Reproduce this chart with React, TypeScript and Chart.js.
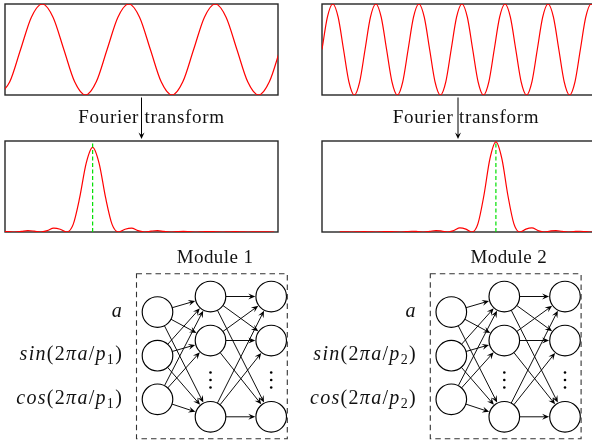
import React, { useEffect, useRef } from "react";
import { Chart, registerables } from "chart.js";

Chart.register(...registerables);

// ---------------- data ----------------
// Top panels: the two input signals, sampled every 1/8 of a period (x unit = one period)
const signal1 = [
  -1, -0.71, 0, 0.71, 1, 0.71, 0, -0.71,
  -1, -0.71, 0, 0.71, 1, 0.71, 0, -0.71,
  -1, -0.71, 0, 0.71, 1, 0.71, 0, -0.71,
  -1, -0.71, 0,
];
const signal2 = [
  0, 0.71, 1, 0.71, 0, -0.71, -1, -0.71,
  0, 0.71, 1, 0.71, 0, -0.71, -1, -0.71,
  0, 0.71, 1, 0.71, 0, -0.71, -1, -0.71,
  0, 0.71, 1, 0.71, 0, -0.71, -1, -0.71,
  0, 0.71, 1, 0.71, 0, -0.71, -1, -0.71,
  0, 0.71, 1, 0.71, 0, -0.71, -1, -0.71,
  0, 0.71, 1, 0.71, 0,
];
const samplesPerPeriod = 8;
const signalWindows = [
  [0.07, 3.225],
  [0, 6.34],
];

// Bottom panels: magnitude spectra (frequency window 0..10)
const spectrumPeaks = [3.21, 6.37];
const spectrumHeights = [0.93, 0.99];
const lobeWidths = [0.95, 0.88];
const lobeStep = 0.25;
const lobeCenterIndex = 26;
const lobeShape = [
  0.0024, 0.0013, 0, 0.0015, 0.0033, 0.0018, 0, 0.0022, 0.005, 0.0028, 0,
  0.0036, 0.0083, 0.0048, 0, 0.0067, 0.0162, 0.01, 0, 0.0165, 0.045, 0.0324,
  0, 0.09, 0.405, 0.811,
  1,
  0.811, 0.405, 0.09, 0, 0.0324, 0.045, 0.0165, 0, 0.01, 0.0162, 0.0067, 0,
  0.0048, 0.0083, 0.0036, 0, 0.0028, 0.005, 0.0022, 0, 0.0018, 0.0033, 0.0015,
  0, 0.0013, 0.0024, 0.0011, 0,
];
const frequencyRange = [0, 10];

// Texts
const transformLabel = "Fourier transform";
const moduleNames = ["Module 1", "Module 2"];
const moduleIndices = ["1", "2"];
// network: three layers, three drawn nodes each
const layerSizes = [3, 3, 3];

// ---------------- layout (positions / sizes) ----------------
const W = 592;
const H = 442;
const PAD = 3;
const panels = [
  { left: 5, top: 4, width: 273, height: 91 },
  { left: 322, top: 4, width: 273, height: 91 },
  { left: 5, top: 141, width: 273, height: 91 },
  { left: 322, top: 141, width: 273, height: 91 },
];
const moduleOffsets = [0, 293.8];
const layerX = [157.5, 210.5, 271.2];
const inputRowsY = [312, 355.7, 399.3];
const innerRowsY = [296.5, 340.5, 416.8];
const dotsY = [372.5, 380, 387.5];
const nodeRadius = 15.3;
const moduleBox = { left: 136.5, top: 273.8, right: 287.3, bottom: 438.7 };
const moduleTitle = { x: 215, y: 263.3 };
const labelGap = 35.7;
const transformArrowsX = [141.5, 458];
const transformArrowY = [97.5, 139];
const transformTextX = [78.3, 392.7];
const transformTextY = 122.7;

const SERIF = '"Liberation Serif", "DejaVu Serif", serif';
const RED = "#ff0000";
const GREEN = "#00e000";
const FRAME = "#262626";

type Seg = [string, "i" | "u" | "s"];
function inputLabel(row: number, k: string): Seg[] {
  if (row === 0) return [["a", "i"]];
  const fn = row === 1 ? "sin" : "cos";
  return [
    [fn, "i"],
    ["(", "u"],
    ["2", "u"],
    ["πa", "i"],
    ["/", "u"],
    ["p", "i"],
    [k, "s"],
    [")", "u"],
  ];
}

const framePlugin = {
  id: "panelFrame",
  beforeDatasetsDraw(chart: any) {
    const { ctx, chartArea: a } = chart;
    ctx.save();
    ctx.strokeStyle = FRAME;
    ctx.lineWidth = 1.4;
    ctx.strokeRect(a.left, a.top, a.right - a.left, a.bottom - a.top);
    ctx.restore();
  },
};

function drawArrow(ctx: CanvasRenderingContext2D, x1: number, y1: number, x2: number, y2: number, r1: number, r2: number, hl = 7, hw = 3) {
  const dx = x2 - x1;
  const dy = y2 - y1;
  const len = Math.hypot(dx, dy);
  const ux = dx / len;
  const uy = dy / len;
  const sx = x1 + ux * r1;
  const sy = y1 + uy * r1;
  const ex = x2 - ux * r2;
  const ey = y2 - uy * r2;
  ctx.beginPath();
  ctx.moveTo(sx, sy);
  ctx.lineTo(ex - ux * hl * 0.6, ey - uy * hl * 0.6);
  ctx.stroke();
  ctx.beginPath();
  ctx.moveTo(ex, ey);
  ctx.lineTo(ex - ux * hl - uy * hw, ey - uy * hl + ux * hw);
  ctx.lineTo(ex - ux * hl * 0.62, ey - uy * hl * 0.62);
  ctx.lineTo(ex - ux * hl + uy * hw, ey - uy * hl - ux * hw);
  ctx.closePath();
  ctx.fill();
}

function drawMath(ctx: CanvasRenderingContext2D, segs: Seg[], right: number, baseline: number) {
  const size = 20;
  const fonts: Record<string, string> = {
    i: `italic ${size}px ${SERIF}`,
    u: `${size}px ${SERIF}`,
    s: `${Math.round(size * 0.7)}px ${SERIF}`,
  };
  const extra = 1.3;
  let total = 0;
  for (const [t, st] of segs) {
    ctx.font = fonts[st];
    for (const ch of t) total += ctx.measureText(ch).width + extra;
  }
  total -= extra;
  let x = right - total;
  ctx.textAlign = "left";
  ctx.textBaseline = "alphabetic";
  for (const [t, st] of segs) {
    ctx.font = fonts[st];
    const y = st === "s" ? baseline + 3.8 : baseline;
    for (const ch of t) {
      ctx.fillText(ch, x, y);
      x += ctx.measureText(ch).width + extra;
    }
  }
}

const diagramPlugin = {
  id: "diagram",
  beforeDatasetsDraw(chart: any) {
    const { ctx } = chart;
    const sx = chart.scales.x;
    const sy = chart.scales.y;
    const px = (v: number) => sx.getPixelForValue(v);
    const py = (v: number) => sy.getPixelForValue(v);
    ctx.save();
    ctx.strokeStyle = "#000";
    ctx.fillStyle = "#000";
    ctx.lineWidth = 0.95;
    moduleOffsets.forEach((off) => {
      for (let l = 0; l < layerSizes.length - 1; l++) {
        const ys1 = l === 0 ? inputRowsY : innerRowsY;
        const ys2 = innerRowsY;
        for (let a = 0; a < layerSizes[l]; a++) {
          for (let b = 0; b < layerSizes[l + 1]; b++) {
            drawArrow(ctx, px(layerX[l] + off), py(ys1[a]), px(layerX[l + 1] + off), py(ys2[b]), nodeRadius, nodeRadius + 0.6);
          }
        }
      }
    });
    ctx.restore();
  },
  afterDatasetsDraw(chart: any) {
    const { ctx } = chart;
    const sx = chart.scales.x;
    const sy = chart.scales.y;
    const px = (v: number) => sx.getPixelForValue(v);
    const py = (v: number) => sy.getPixelForValue(v);
    ctx.save();
    // dashed module frames
    ctx.strokeStyle = "#333";
    ctx.lineWidth = 1.1;
    ctx.setLineDash([5.5, 4]);
    moduleOffsets.forEach((off) => {
      ctx.strokeRect(
        px(moduleBox.left + off),
        py(moduleBox.top),
        px(moduleBox.right + off) - px(moduleBox.left + off),
        py(moduleBox.bottom) - py(moduleBox.top)
      );
    });
    ctx.setLineDash([]);
    // Fourier transform arrows
    ctx.strokeStyle = "#000";
    ctx.fillStyle = "#000";
    ctx.lineWidth = 1;
    transformArrowsX.forEach((x) => {
      drawArrow(ctx, px(x), py(transformArrowY[0]), px(x), py(transformArrowY[1]), 0, 0, 6.5, 3);
    });
    // texts
    ctx.fillStyle = "#111";
    ctx.textBaseline = "alphabetic";
    ctx.font = `19px ${SERIF}`;
    (ctx as any).letterSpacing = "0.7px";
    ctx.textAlign = "left";
    transformTextX.forEach((x) => ctx.fillText(transformLabel, px(x), py(transformTextY)));
    (ctx as any).letterSpacing = "0.4px";
    ctx.textAlign = "center";
    moduleOffsets.forEach((off, m) => ctx.fillText(moduleNames[m], px(moduleTitle.x + off), py(moduleTitle.y)));
    (ctx as any).letterSpacing = "0px";
    moduleOffsets.forEach((off, m) => {
      inputRowsY.forEach((y, r) => {
        drawMath(ctx, inputLabel(r, moduleIndices[m]), px(layerX[0] + off - labelGap), py(y + 4.7));
      });
    });
    ctx.restore();
  },
};

export default function App() {
  const bgRef = useRef<HTMLCanvasElement | null>(null);
  const panelRefs = useRef<(HTMLCanvasElement | null)[]>([]);

  useEffect(() => {
    const charts: Chart[] = [];
    const baseOptions = (xr: number[], yr: number[]) => ({
      animation: false as const,
      responsive: false,
      events: [] as any[],
      layout: { padding: PAD, autoPadding: false },
      plugins: { legend: { display: false }, tooltip: { enabled: false } },
      elements: { point: { radius: 0 } },
      scales: {
        x: { type: "linear" as const, display: false, min: xr[0], max: xr[1] },
        y: { type: "linear" as const, display: false, min: yr[0], max: yr[1] },
      },
    });

    // top panels: signals
    [signal1, signal2].forEach((sig, i) => {
      const cv = panelRefs.current[i];
      if (!cv) return;
      charts.push(
        new Chart(cv, {
          type: "line",
          data: {
            datasets: [
              {
                data: sig.map((v, k) => ({ x: k / samplesPerPeriod, y: v })),
                borderColor: RED,
                borderWidth: 1.2,
                cubicInterpolationMode: "monotone",
                pointRadius: 0,
                fill: false,
              },
            ],
          },
          options: baseOptions(signalWindows[i], [-1, 1]) as any,
          plugins: [framePlugin],
        })
      );
    });

    // bottom panels: spectra
    spectrumPeaks.forEach((peak, i) => {
      const cv = panelRefs.current[i + 2];
      if (!cv) return;
      charts.push(
        new Chart(cv, {
          type: "line",
          data: {
            datasets: [
              {
                data: [
                  { x: peak, y: 0 },
                  { x: peak, y: 1 },
                ],
                borderColor: GREEN,
                borderWidth: 1.2,
                borderDash: [4, 2.5],
                pointRadius: 0,
                fill: false,
              },
              {
                data: lobeShape.map((s, k) => ({
                  x: peak + (k - lobeCenterIndex) * lobeStep * lobeWidths[i],
                  y: s * spectrumHeights[i],
                })),
                borderColor: RED,
                borderWidth: 1.2,
                cubicInterpolationMode: "monotone",
                pointRadius: 0,
                fill: false,
              },
            ],
          },
          options: baseOptions(frequencyRange, [0, 1]) as any,
          plugins: [framePlugin],
        })
      );
    });

    // network diagram (page coordinates)
    if (bgRef.current) {
      const nodes: { x: number; y: number }[] = [];
      const dots: { x: number; y: number }[] = [];
      moduleOffsets.forEach((off) => {
        layerSizes.forEach((n, l) => {
          const ys = l === 0 ? inputRowsY : innerRowsY;
          for (let r = 0; r < n; r++) nodes.push({ x: layerX[l] + off, y: ys[r] });
          if (l > 0) dotsY.forEach((y) => dots.push({ x: layerX[l] + off, y }));
        });
      });
      charts.push(
        new Chart(bgRef.current, {
          type: "scatter",
          data: {
            datasets: [
              {
                data: dots,
                pointRadius: 1.3,
                pointBackgroundColor: "#000",
                pointBorderWidth: 0,
              },
              {
                data: nodes,
                pointRadius: nodeRadius,
                pointBackgroundColor: "#fff",
                pointBorderColor: "#000",
                pointBorderWidth: 1.15,
              },
            ],
          },
          options: {
            animation: false,
            responsive: false,
            events: [],
            layout: { padding: 0, autoPadding: false },
            plugins: { legend: { display: false }, tooltip: { enabled: false } },
            scales: {
              x: { type: "linear", display: false, min: 0, max: W },
              y: { type: "linear", display: false, min: 0, max: H, reverse: true },
            },
          } as any,
          plugins: [diagramPlugin],
        })
      );
    }
    return () => charts.forEach((c) => c.destroy());
  }, []);

  return (
    <div
      style={{
        position: "fixed",
        left: 0,
        top: 0,
        width: W,
        height: H,
        overflow: "hidden",
        background: "#fff",
      }}
    >
      <canvas
        ref={bgRef}
        width={W}
        height={H}
        style={{ position: "absolute", left: 0, top: 0, width: W, height: H, display: "block" }}
      />
      {panels.map((p, i) => (
        <canvas
          key={i}
          ref={(el) => {
            panelRefs.current[i] = el;
          }}
          width={p.width + 2 * PAD}
          height={p.height + 2 * PAD}
          style={{
            position: "absolute",
            left: p.left - PAD,
            top: p.top - PAD,
            width: p.width + 2 * PAD,
            height: p.height + 2 * PAD,
            display: "block",
          }}
        />
      ))}
    </div>
  );
}
